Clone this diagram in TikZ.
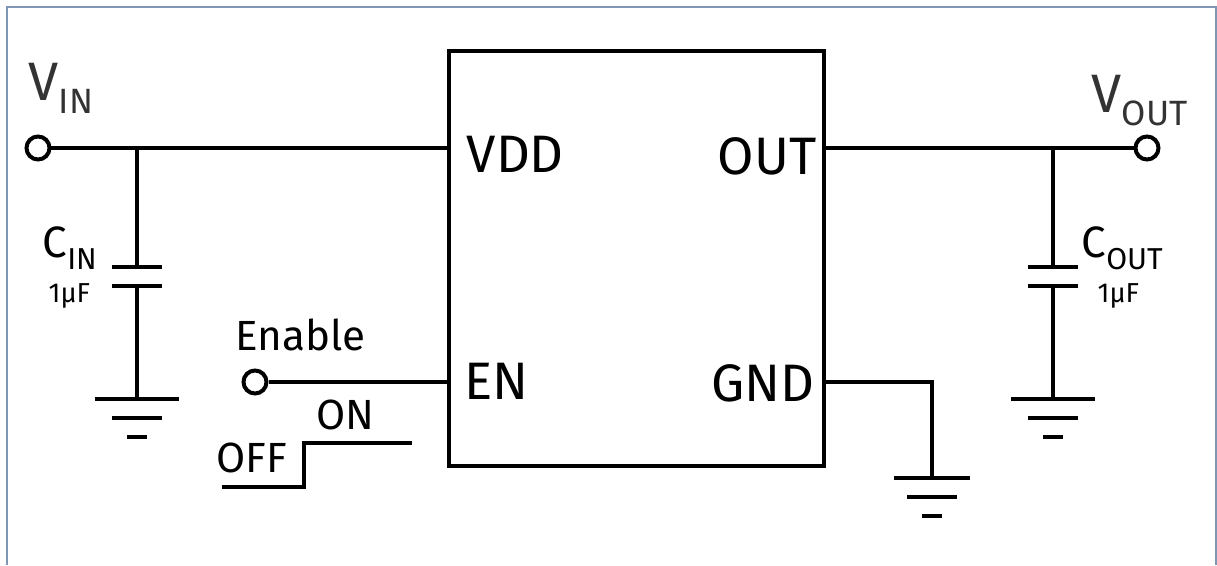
\documentclass[tikz,border=0pt]{standalone}
\usepackage{fontspec}
\setmainfont{Fira Sans}
\tikzset{
	wire/.style={black, line width=0.04cm},
	terminal/.style={circle, draw=black, fill=white, line width=0.04cm, inner sep=0pt, minimum size=0.23cm},
	pinlabel/.style={inner sep=0pt, anchor=base west, font=\fontsize{15}{15}\selectfont},
	smalllabel/.style={inner sep=0pt, anchor=base west, font=\fontsize{12}{12}\selectfont},
	partlabel/.style={inner sep=0pt, anchor=base west, font=\fontsize{12.5}{12.5}\selectfont},
	valuelabel/.style={inner sep=0pt, anchor=base west, font=\fontsize{7.8}{7.8}\selectfont},
	railover/.style={inner sep=0pt, anchor=base west, text=black!80, font=\fontsize{15.4}{15.4}\selectfont}
}
\newcommand{\subtext}[1]{\raisebox{-0.12cm}{\fontsize{8.6}{8.6}\selectfont #1}}
\newcommand{\railsub}[1]{\raisebox{-0.13cm}{\fontsize{10}{10}\selectfont #1}}
\begin{document}
\begin{tikzpicture}
	\useasboundingbox (0,0) rectangle (12.17,5.65);
	% frame
	\draw [color={rgb,255:red,127;green,151;blue,181}, line width=0.02cm] (0.07,0) -- (0.07,5.58) -- (12.16,5.58) -- (12.16,0);

	% regulator
	\node [draw=black, line width=0.04cm, minimum width=3.75cm, minimum height=4.15cm, inner sep=0pt] (reg) at (6.365,3.065) {};

	% terminals
	\node [terminal] (vin) at (0.38,4.17) {};
	\node [terminal] (vout) at (11.47,4.17) {};
	\node [terminal] (enable) at (2.55,1.83) {};

	% pins
	\coordinate (vdd) at (reg.west |- vin);
	\coordinate (out) at (reg.east |- vout);
	\coordinate (en) at (reg.west |- enable);
	\coordinate (gnd) at (8.24,1.83);
	\draw [wire] (vin) -- (vdd);
	\draw [wire] (out) -- (vout);
	\draw [wire] (enable) -- (en);

	\node [pinlabel] (vddtext) at (4.66,3.93) {VDD};
	\node [pinlabel] (outtext) at (7.17,3.91) {OUT};
	\node [pinlabel] (entext) at (4.64,1.66) {EN};
	\node [pinlabel] (gndtext) at (7.11,1.64) {GND};

	% input capacitor
	\coordinate (cinwire) at (1.37,4.17);
	\coordinate (cintop) at (1.37,2.98);
	\coordinate (cinbot) at (1.37,2.79);
	\coordinate (cingnd) at (1.37,1.66);
	\draw [wire] (cinwire) -- (cintop);
	\draw [wire] (cintop) ++(-0.25,0) -- ++(0.5,0);
	\draw [wire] (cinbot) ++(-0.25,0) -- ++(0.5,0);
	\draw [wire] (cinbot) -- (cingnd);
	\draw [wire] (cingnd) ++(-0.42,0) -- ++(0.84,0);
	\draw [wire] (cingnd) ++(-0.25,-0.19) -- ++(0.5,0);
	\draw [wire] (cingnd) ++(-0.1,-0.38) -- ++(0.2,0);

	% output capacitor
	\coordinate (coutwire) at (10.53,4.17);
	\coordinate (couttop) at (10.53,2.98);
	\coordinate (coutbot) at (10.53,2.79);
	\coordinate (coutgnd) at (10.53,1.66);
	\draw [wire] (coutwire) -- (couttop);
	\draw [wire] (couttop) ++(-0.25,0) -- ++(0.5,0);
	\draw [wire] (coutbot) ++(-0.25,0) -- ++(0.5,0);
	\draw [wire] (coutbot) -- (coutgnd);
	\draw [wire] (coutgnd) ++(-0.42,0) -- ++(0.84,0);
	\draw [wire] (coutgnd) ++(-0.25,-0.19) -- ++(0.5,0);
	\draw [wire] (coutgnd) ++(-0.1,-0.38) -- ++(0.2,0);

	% ground of the regulator
	\coordinate (reggnd) at (9.32,0.87);
	\draw [wire] (gnd) -| (reggnd);
	\draw [wire] (reggnd) ++(-0.38,0) -- ++(0.76,0);
	\draw [wire] (reggnd) ++(-0.25,-0.19) -- ++(0.5,0);
	\draw [wire] (reggnd) ++(-0.1,-0.38) -- ++(0.2,0);

	% step
	\coordinate (stepa) at (2.22,0.78);
	\coordinate (stepb) at (3.04,1.22);
	\coordinate (stepc) at (4.12,1.22);
	\draw [wire] (stepa) -| (stepb) -- (stepc);

	% labels
	\node [railover] (vintext) at (0.28,4.65) {V\railsub{IN}};
	\node [railover] (vouttext) at (10.91,4.53) {V\railsub{OUT}};
	\node [partlabel] (cintext) at (0.42,3.08) {C\subtext{IN}};
	\node [partlabel] (couttext) at (10.81,3.08) {C\subtext{OUT}};
	\node [valuelabel] (cinvalue) at (0.48,2.63) {1µF};
	\node [valuelabel] (coutvalue) at (10.97,2.63) {1µF};
	\node [smalllabel] (enabletext) at (2.35,2.15) {Enable};
	\node [smalllabel] (ontext) at (3.16,1.36) {ON};
	\node [smalllabel] (offtext) at (2.16,0.93) {OFF};
\end{tikzpicture}
\end{document}
